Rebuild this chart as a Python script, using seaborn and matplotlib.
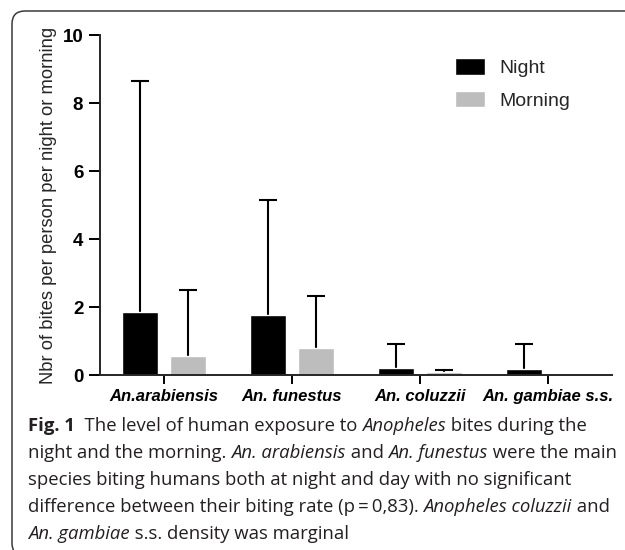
import numpy as np
import pandas as pd
import matplotlib
matplotlib.use('Agg')
import matplotlib.pyplot as plt
import seaborn as sns
from matplotlib.patches import FancyBboxPatch
from matplotlib.transforms import IdentityTransform
from matplotlib.font_manager import FontProperties

# --------------------------------------------------
# Data
# --------------------------------------------------
species = ['An.arabiensis', 'An. funestus', 'An. coluzzii', 'An. gambiae s.s.']
periods = ['Night', 'Morning']
night_mean = [1.84, 1.76, 0.22, 0.18]
night_upper = [8.66, 5.16, 0.91, 0.91]
morning_mean = [0.55, 0.79, 0.08, 0.0]
morning_upper = [2.49, 2.33, 0.16, 0.0]
y_ticks = [0, 2, 4, 6, 8, 10]

df = pd.DataFrame({
    'species': species * 2,
    'period': ['Night'] * 4 + ['Morning'] * 4,
    'mean': night_mean + morning_mean,
    'upper': night_upper + morning_upper,
})

sns.set_style('ticks')
plt.rcParams['font.family'] = ['Liberation Sans', 'DejaVu Sans']

fig = plt.figure(figsize=(6.25, 5.5), dpi=100)
ax = fig.add_axes([100 / 625, 1 - 375 / 550, 512 / 625, 340 / 550])

sns.barplot(data=df, x='species', y='mean', hue='period',
            order=species, hue_order=periods,
            palette={'Night': 'black', 'Morning': '#bdbdbd'},
            width=0.75, gap=0.27, errorbar=None, saturation=1, ax=ax)

# upper-only error bars (drop the lower cap)
for cont, period in zip(ax.containers, periods):
    sub = df[df['period'] == period].set_index('species').loc[species]
    xs = np.array([b.get_x() + b.get_width() / 2 for b in cont])
    keep = sub['upper'].values > sub['mean'].values
    _, caps, _ = ax.errorbar(xs[keep], sub['mean'].values[keep],
                             yerr=[np.zeros(keep.sum()), (sub['upper'] - sub['mean']).values[keep]],
                             fmt='none', ecolor='black', elinewidth=1.5, capsize=6.2,
                             capthick=1.5, zorder=0.5)
    caps[0].remove()

ax.set_xlim(-0.5, 3.5)
ax.set_ylim(0, 10)
ax.set_yticks(y_ticks)
ax.set_yticklabels([str(t) for t in y_ticks], fontweight='bold', fontsize=13.5)
ax.set_xticks(range(len(species)))
ax.set_xticklabels(species, fontweight='bold', fontstyle='italic', fontsize=12)
sns.despine(ax=ax)
for s in ['left', 'bottom']:
    ax.spines[s].set_linewidth(1.4)
ax.tick_params(axis='y', length=8, width=1.4, pad=4, colors='black')
ax.tick_params(axis='x', length=6.5, width=1.4, pad=3.5, colors='black')
ax.set_xlabel('')
ax.set_ylabel('Nbr of bites per person per night or morning', fontsize=13.2, labelpad=4)

sns.move_legend(ax, 'upper left', bbox_to_anchor=(455 / 625, 1 - 58 / 550),
                bbox_transform=fig.transFigure, frameon=False, title='',
                fontsize=14, handlelength=1.55, handleheight=0.93,
                handletextpad=0.72, labelspacing=0.7, borderpad=0, borderaxespad=0)

# --------------------------------------------------
# Caption
# --------------------------------------------------
cap_family = ['Open Sans', 'DejaVu Sans']
caption_lines = [
    [('Fig. 1', 'bold'), ('  The level of human exposure to ', 'normal'),
     ('Anopheles', 'italic'), (' bites during the', 'normal')],
    [('night and the morning. ', 'normal'), ('An. arabiensis', 'italic'),
     (' and ', 'normal'), ('An. funestus', 'italic'), (' were the main', 'normal')],
    [('species biting humans both at night and day with no significant', 'normal')],
    [('difference between their biting rate (p\u2009=\u20090,83). ', 'normal'),
     ('Anopheles coluzzii', 'italic'), (' and', 'normal')],
    [('An. gambiae', 'italic'), (' s.s. density was marginal', 'normal')],
]
baselines = [431, 458, 485, 512, 539]

renderer = fig.canvas.get_renderer()


def props(style, size):
    return FontProperties(family=cap_family, size=size,
                          weight='bold' if style == 'bold' else 'normal',
                          style='italic' if style == 'italic' else 'normal')


def width(s, style, size):
    # pixel advance of a piece, spaces included
    p = props(style, size)
    w1 = renderer.get_text_width_height_descent('|' + s + '|', p, ismath=False)[0]
    w0 = renderer.get_text_width_height_descent('||', p, ismath=False)[0]
    return w1 - w0


base_size = 13
w_line2 = sum(width(s, st, base_size) for s, st in caption_lines[1])
cap_size = base_size * 585 / w_line2

for line, yb in zip(caption_lines, baselines):
    x = 28
    for s, st in line:
        fig.text(x / 625, 1 - yb / 550, s, fontproperties=props(st, cap_size),
                 color='#231f20', ha='left', va='baseline')
        x += width(s, st, cap_size)

# rounded frame around the figure
frame = FancyBboxPatch((12, -6), 660, 545, boxstyle='round,pad=0,rounding_size=13',
                       transform=IdentityTransform(), fill=False,
                       edgecolor='#3a3a3a', linewidth=1.1, clip_on=False)
fig.add_artist(frame)

fig.savefig('out.png', dpi=100)
